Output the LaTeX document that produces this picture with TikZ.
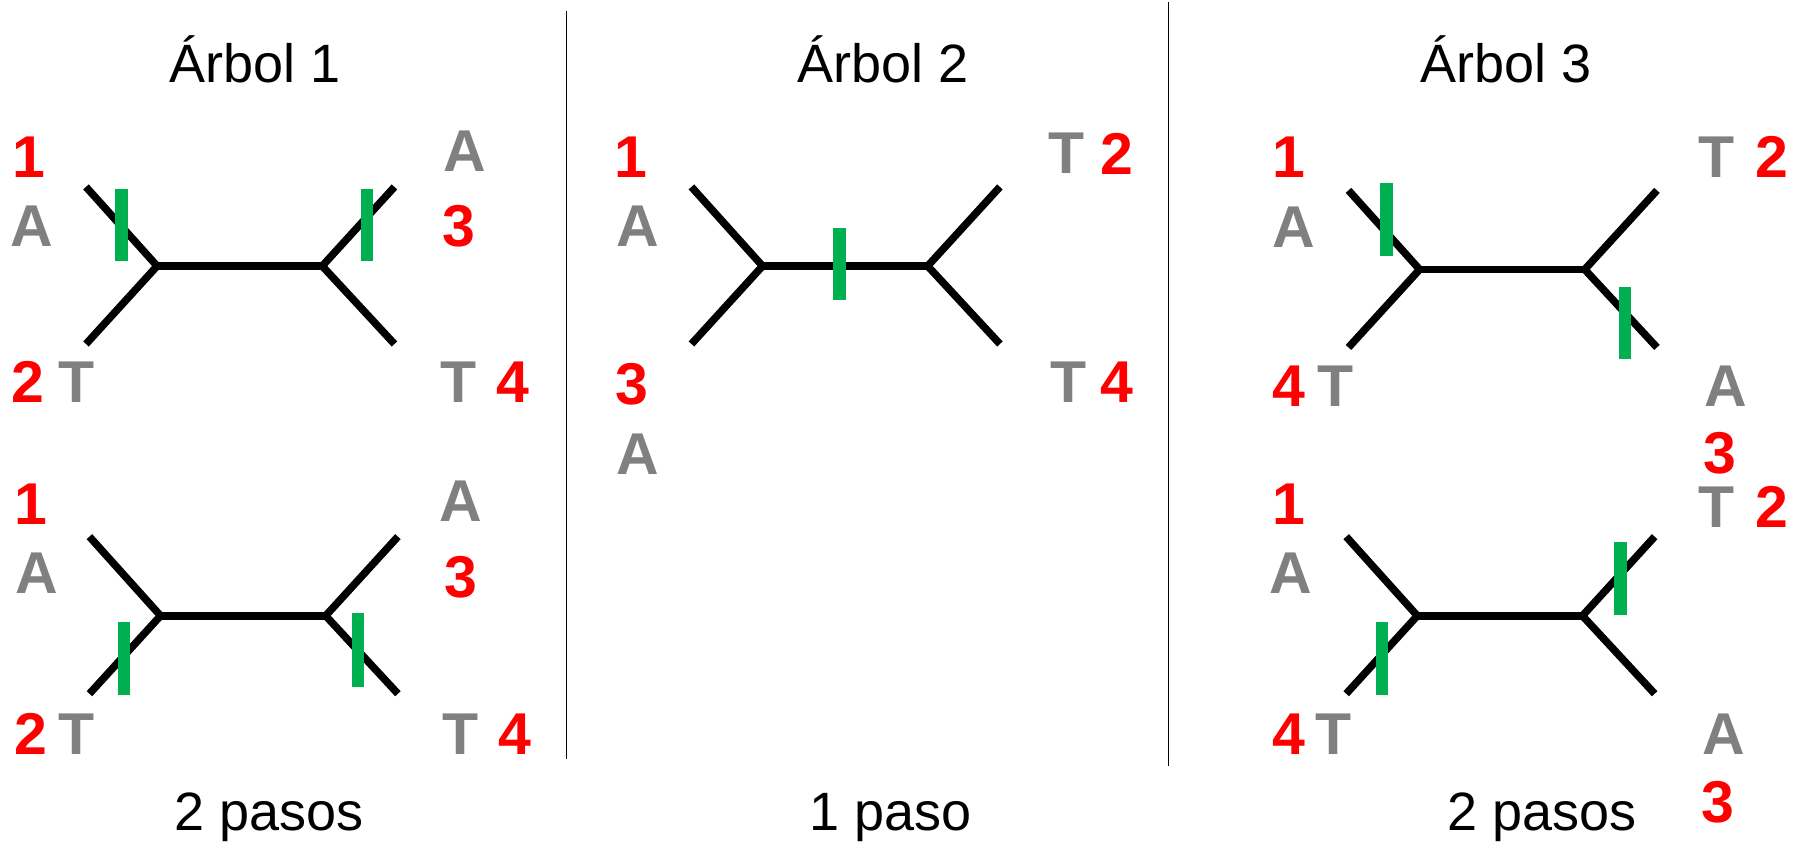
\documentclass[tikz,border=0pt]{standalone}
\usepackage{fontspec}
\setmainfont{Liberation Sans}
\usetikzlibrary{positioning}
\definecolor{rojo}{RGB}{255,0,0}
\definecolor{gris}{RGB}{128,128,128}
\definecolor{verde}{RGB}{0,176,80}
\tikzstyle{rama}=[line width=7.5pt, black]
\tikzstyle{cambio}=[line width=12.5pt, verde]
\tikzstyle{num}=[text=rojo, inner sep=0pt, font=\fontsize{59}{59}\selectfont\bfseries]
\tikzstyle{base}=[text=gris, inner sep=0pt, font=\fontsize{59}{59}\selectfont\bfseries]
\tikzstyle{titulo}=[anchor=base, inner sep=0pt, font=\fontsize{54}{54}\selectfont]

\begin{document}
\begin{tikzpicture}[x=1.1467pt, y=-1.1467pt]
\useasboundingbox (0,0) rectangle (1568,735);

% titulos y separadores
\node[titulo] (t1) at (222,72) {Árbol 1};
\node[titulo] (t2) at (770,72) {Árbol 2};
\node[titulo] (t3) at (1313,72) {Árbol 3};
\node[titulo] (c1) at (235,724) {2 pasos};
\node[titulo] (c2) at (777,724) {1 paso};
\node[titulo] (c3) at (1345,724) {2 pasos};
\coordinate (s1a) at (494,10);
\coordinate (s1b) at (494,662);
\coordinate (s2a) at (1019,2);
\coordinate (s2b) at (1019,668);
\draw[line width=1.2pt] (s1a) -- (s1b);
\draw[line width=1.2pt] (s2a) -- (s2b);

% arboles
\foreach \t/\x/\y in {p/137/232, q/140/537, r/665/232, s/1238/235, u/1236/537} {
  \coordinate (\t L) at (\x,\y);
  \coordinate (\t R) at (\x+144,\y);
  \coordinate (\t lt) at (\x-62,\y-69);
  \coordinate (\t lb) at (\x-62,\y+68);
  \coordinate (\t rt) at (\x+207,\y-69);
  \coordinate (\t rb) at (\x+207,\y+68);
  \draw[rama] (\t lt) -- (\t L) -- (\t lb);
  \draw[rama] (\t L) -- (\t R);
  \draw[rama] (\t rt) -- (\t R) -- (\t rb);
}

% cambios
\draw[cambio] (106,165) -- (106,228);
\draw[cambio] (320,165) -- (320,228);
\draw[cambio] (108,542) -- (108,606);
\draw[cambio] (312,535) -- (312,599);
\draw[cambio] (732,199) -- (732,262);
\draw[cambio] (1209,160) -- (1209,223);
\draw[cambio] (1417,250) -- (1417,313);
\draw[cambio] (1205,542) -- (1205,606);
\draw[cambio] (1413,473) -- (1413,536);

% arbol 1, arriba
\node[num] (p1) at (25,137) {1};
\node[base] (pA1) at (28,197) {A};
\node[num] (p2) at (24,333) {2};
\node[base] (pT2) at (67,333) {T};
\node[base] (pA3) at (405,132) {A};
\node[num] (p3) at (400,197) {3};
\node[base] (pT4) at (400,333) {T};
\node[num] (p4) at (447,333) {4};

% arbol 1, abajo
\node[num] (q1) at (27,440) {1};
\node[base] (qA1) at (32,500) {A};
\node[num] (q2) at (27,640) {2};
\node[base] (qT2) at (67,640) {T};
\node[base] (qA3) at (402,437) {A};
\node[num] (q3) at (402,503) {3};
\node[base] (qT4) at (402,640) {T};
\node[num] (q4) at (449,640) {4};

% arbol 2
\node[num] (r1) at (550,137) {1};
\node[base] (rA1) at (556,197) {A};
\node[num] (r3) at (551,335) {3};
\node[base] (rA3) at (556,396) {A};
\node[base] (rT2) at (930,134) {T};
\node[num] (r2) at (974,134) {2};
\node[base] (rT4) at (932,333) {T};
\node[num] (r4) at (974,333) {4};

% arbol 3, arriba
\node[num] (s1) at (1124,137) {1};
\node[base] (sA1) at (1128,198) {A};
\node[num] (s4) at (1124,337) {4};
\node[base] (sT4) at (1165,337) {T};
\node[base] (sT2) at (1497,137) {T};
\node[num] (s2) at (1545,137) {2};
\node[base] (sA3) at (1505,337) {A};
\node[num] (s3) at (1500,395) {3};

% arbol 3, abajo
\node[num] (u1) at (1124,440) {1};
\node[base] (uA1) at (1126,500) {A};
\node[num] (u4) at (1124,640) {4};
\node[base] (uT4) at (1163,640) {T};
\node[base] (uT2) at (1497,442) {T};
\node[num] (u2) at (1545,442) {2};
\node[base] (uA3) at (1503,640) {A};
\node[num] (u3) at (1498,700) {3};
\end{tikzpicture}
\end{document}
